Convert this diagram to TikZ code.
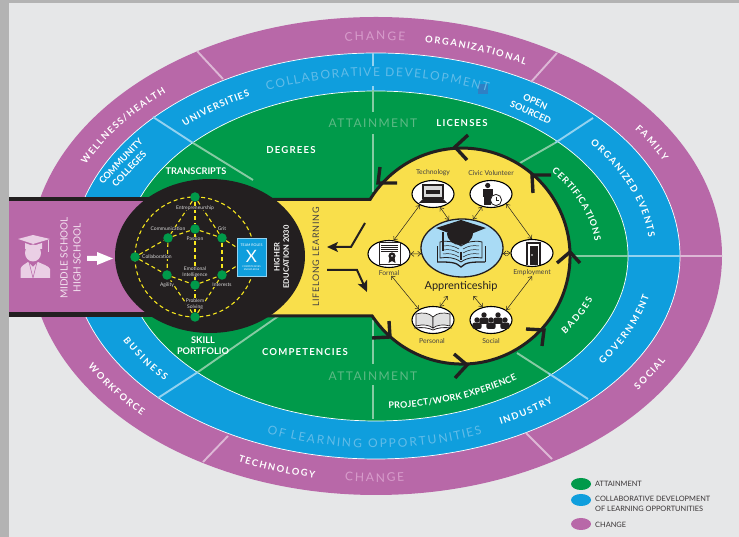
\documentclass[tikz,border=0pt]{standalone}
\usepackage{fontspec}
\setmainfont{Lato}
\newfontfamily\spaced[LetterSpace=12]{Lato}
\usetikzlibrary{shapes.geometric,arrows.meta,decorations.text}
\definecolor{pagegray}{HTML}{E6E7E8}
\definecolor{stripgray}{HTML}{B3B3B3}
\definecolor{ringpurple}{HTML}{B868A8}
\definecolor{ringblue}{HTML}{0F9EDD}
\definecolor{ringgreen}{HTML}{009A4A}
\definecolor{hubyellow}{HTML}{F9DF4B}
\definecolor{hubblack}{HTML}{231F20}
\definecolor{ghostpurple}{HTML}{D79CCB}
\definecolor{ghostblue}{HTML}{62BCE8}
\definecolor{ghostgreen}{HTML}{5DB985}
\definecolor{linepurple}{HTML}{DDB8D6}
\definecolor{lineblue}{HTML}{93D2F0}
\definecolor{linegreen}{HTML}{86CBA3}
\definecolor{iconpurple}{HTML}{EACFE5}
\definecolor{netyellow}{HTML}{F6E61E}
\definecolor{bookblue}{HTML}{A9DBF5}
\definecolor{markblue}{HTML}{2F80C4}
\tikzset{
  ringwhite/.style={font=\fontsize{9.4}{9.4}\selectfont\bfseries,text=white},
  ringsmall/.style={font=\fontsize{9}{9}\selectfont\bfseries,text=white},
  ringghost/.style={font=\fontsize{12}{12}\selectfont,text=#1},
  flatlabel/.style={font=\spaced\fontsize{9.6}{11}\selectfont\bfseries,text=white,inner sep=0pt,align=center},
  flatplain/.style={font=\fontsize{9.2}{11.4}\selectfont\bfseries,text=white,inner sep=0pt,align=center},
  ghostlabel/.style={font=\spaced\fontsize{12}{12}\selectfont,text=ghostgreen,inner sep=0pt},
  netdot/.style={circle,fill=ringgreen,minimum size=9.5pt,inner sep=0pt},
  netlink/.style={draw=netyellow,line width=1.1pt,dash pattern=on 4pt off 3pt},
  netlabel/.style={font=\fontsize{5}{5.6}\selectfont,text=white!85!black,fill=hubblack,inner sep=.2pt,align=center},
  iconcell/.style={ellipse,draw=black,fill=white,line width=1.1pt,minimum width=42pt,minimum height=27pt,inner sep=0pt},
  iconlabel/.style={font=\fontsize{6.8}{7}\selectfont,text=hubblack!85,inner sep=0pt},
  twoway/.style={{Straight Barb[length=3pt,width=5pt]}-{Straight Barb[length=3pt,width=5pt]},line width=.5pt,draw=hubblack},
  chevron/.style={draw=hubblack,line width=3.4pt},
  bigarrow/.style={draw=hubblack,line width=2pt,-{Stealth[length=11pt,width=10pt,inset=2.5pt]}},
  legendkey/.style={ellipse,minimum width=20pt,minimum height=12pt,inner sep=0pt},
  legendtext/.style={font=\fontsize{7.4}{9.6}\selectfont,text=hubblack!90,inner sep=0pt,align=left,anchor=west},
}
% text on an arc of an ellipse round the middle of the rings
\newcommand{\ringlabel}[6]{%
  \path[decorate,decoration={text effects along path,text={#6},
    text effects/.cd,text along path,fit text to path,characters={text along path,#5}}]
    ({376+#1*cos(#3)},{281+#2*sin(#3)}) arc[start angle=#3,end angle=#4,x radius=#1,y radius=#2];}
\begin{document}
\begin{tikzpicture}[x=1pt,y=1pt]
  \useasboundingbox (0,0) rectangle (739,537);
  \fill[stripgray] (0,0) rectangle (739,537);
  \fill[pagegray] (9,0) rectangle (739,534);

  % the three rings
  \fill[ringpurple] (376,281) ellipse[x radius=346,y radius=239];
  \filldraw[fill=ringblue,draw=white,line width=.7pt] (376,281) ellipse[x radius=304,y radius=203];
  \filldraw[fill=ringgreen,draw=white,line width=.7pt] (376,281) ellipse[x radius=252,y radius=165];

  % dividers
  \begin{scope}[line width=1.9pt,draw=linepurple]
    \draw (197,486) -- (223,458);
    \draw (557,484) -- (531,455);
    \draw (203,75) -- (228,101);
    \draw (552,78) -- (526,104);
    \draw (680,281) -- (722,281);
  \end{scope}
  \begin{scope}[line width=1.9pt,draw=lineblue]
    \draw (153,420) -- (193,394);
    \draw (593,419) -- (555,394);
    \draw (158,139) -- (198,165);
    \draw (588,138) -- (548,164);
    \draw (628,281) -- (680,281);
    \draw (373,484) -- (373,471);
    \draw (373,451) -- (373,447);
  \end{scope}
  \begin{scope}[line width=1.9pt,draw=linegreen]
    \draw (193,394) -- (253,357);
    \draw (555,394) -- (520,374);
    \draw (198,165) -- (280,222);
    \draw (548,164) -- (517,184);
    \draw (565,281) -- (628,281);
    \draw (373,447) -- (373,425);
    \draw (373,403) -- (373,345);
    \draw (373,217) -- (373,173);
    \draw (373,152) -- (373,118);
  \end{scope}

  % ring labels
  \ringlabel{320}{216}{95.6}{84.8}{ringghost=ghostpurple}{CHANGE}
  \ringlabel{320}{216}{81.2}{62.2}{ringwhite}{ORGANIZATIONAL}
  \ringlabel{320}{216}{155}{131}{ringwhite}{WELLNESS/HEALTH}
  \ringlabel{320}{216}{36}{26}{ringwhite}{FAMILY}
  \ringlabel{330}{226}{209.2}{224.8}{ringwhite}{WORKFORCE}
  \ringlabel{330}{226}{245.3}{259.3}{ringwhite}{TECHNOLOGY}
  \ringlabel{330}{226}{264.6}{274.9}{ringghost=ghostpurple}{CHANGE}
  \ringlabel{328}{223}{323}{332}{ringwhite}{SOCIAL}
  \fill[markblue] (478,443) rectangle (488,453);
  \ringlabel{274}{180}{113.4}{65.9}{ringghost=ghostblue}{COLLABORATIVE DEVELOPMENT}
  \ringlabel{274}{180}{134.2}{117.4}{ringwhite}{UNIVERSITIES}
  \ringlabel{274}{180}{38.6}{6}{ringwhite}{ORGANIZED EVENTS}
  \ringlabel{280}{184}{324}{347.5}{ringwhite}{GOVERNMENT}
  \ringlabel{283}{188}{296.2}{308.7}{ringwhite}{INDUSTRY}
  \ringlabel{283}{192}{247.3}{292}{ringghost=ghostblue}{OF LEARNING OPPORTUNITIES}
  \ringlabel{283}{188}{206.6}{221.7}{ringwhite}{BUSINESS}
  \ringlabel{240}{153}{273}{306}{ringsmall}{PROJECT/WORK EXPERIENCE}
  \ringlabel{220}{140}{37}{6}{ringsmall}{CERTIFICATIONS}
  \ringlabel{228}{140}{326}{342}{ringsmall}{BADGES}

  \node[flatplain,rotate=-24] (opensourced) at (533,430) {OPEN\\SOURCED};
  \node[flatplain,rotate=47] (community) at (125,372) {COMMUNITY\\COLLEGES};
  \node[flatlabel] (degrees) at (291,387) {DEGREES};
  \node[flatlabel] (licenses) at (462,414) {LICENSES};
  \node[flatlabel] (competencies) at (305,185) {COMPETENCIES};
  \node[flatplain] (transcripts) at (196,366) {TRANSCRIPTS};
  \node[flatplain] (portfolio) at (203,191.5) {SKILL\\PORTFOLIO};
  \node[ghostlabel] (attaintop) at (373,414) {ATTAINMENT};
  \node[ghostlabel] (attainlow) at (373,161) {ATTAINMENT};

  % entry band and hub
  \fill[hubblack] (9,220) rectangle (260,340);
  \fill[ringpurple] (9,225) rectangle (150,336);
  \filldraw[fill=hubyellow,draw=hubblack,line width=3pt] (250,221) -- (372.2,221)
    arc[start angle=-146.3,end angle=148.4,radius=108] -- (250,337.5) -- cycle;
  \fill[hubblack] (210,281) ellipse[x radius=95,y radius=77];

  % graduate
  \begin{scope}[iconpurple]
    \fill (18,298) -- (33,302) -- (50,298) -- (33,293) -- cycle;
    \fill (25,294) -- (33,291) -- (42,294) -- (42,288) -- (25,288) -- cycle;
    \fill (33,284) ellipse[x radius=8,y radius=8.5];
    \fill (20.5,259) -- (20.5,268) .. controls (21,271) and (25,273) .. (28,275) -- (33,270) -- (38,275)
      .. controls (42,273) and (49,271) .. (50,268) -- (50,259) -- cycle;
    \draw[line width=.9pt] (48,297) -- (48,285);
    \draw[ringpurple,line width=.6pt] (29,275) -- (33,259) -- (37,275);
  \end{scope}
  \node[font=\fontsize{10}{13}\selectfont,text=iconpurple!60!white,rotate=90,inner sep=0pt,align=center] (school) at (70.5,279) {MIDDLE SCHOOL\\HIGH SCHOOL};
  \fill[white] (87,276) -- (97,276) -- (97,272) -- (113,278.5) -- (97,285) -- (97,281) -- (87,281) -- cycle;

  % network in the black oval
  \draw[netlink] (195,280) circle[radius=60];
  \node[netdot] (ntop) at (195,340) {};
  \node[netdot] (nbottom) at (195,220) {};
  \node[netdot] (nleft) at (135,280) {};
  \node[netdot] (ncomm) at (168,299) {};
  \node[netdot] (npass) at (195,308) {};
  \node[netdot] (ngrit) at (222,299) {};
  \node[netdot] (nagil) at (167,262) {};
  \node[netdot] (nemot) at (195,252) {};
  \node[netdot] (nintr) at (222,262) {};
  \node[rectangle,fill=ringblue,draw=lineblue,line width=.3pt,minimum width=29pt,minimum height=38pt,inner sep=0pt] (teambox) at (251.5,280) {};
  \foreach \from/\to in {ntop/ncomm,ntop/npass,ntop/ngrit,ncomm/npass,npass/ngrit,ncomm/nagil,ngrit/nintr,npass/nemot,nleft/ncomm,nleft/nagil,nagil/nemot,nemot/nintr,nbottom/nagil,nbottom/nemot,nbottom/nintr,ngrit/teambox,nintr/teambox}
    \draw[netlink] (\from) -- (\to);
  \node[netlabel] (lentre) at (195,329) {Entrepreneurship};
  \node[netlabel] (lcomm) at (168,308) {Communication};
  \node[netlabel] (lgrit) at (222,308) {Grit};
  \node[netlabel] (lpass) at (195,298) {Passion};
  \node[netlabel] (lcoll) at (157,280) {Collaboration};
  \node[netlabel] (lemot) at (195,265) {Emotional\\Intelligence};
  \node[netlabel] (lagil) at (167,252) {Agility};
  \node[netlabel] (lintr) at (222,252) {Interests};
  \node[netlabel] (lprob) at (195,233) {Problem\\Solving};
  \node[font=\fontsize{3.6}{4}\selectfont,text=white,inner sep=0pt] (lteam) at (251.5,292) {TEAM ROLES};
  \node[font=\fontsize{17}{17}\selectfont,text=white,inner sep=0pt] (lx) at (251.5,281) {X};
  \node[font=\fontsize{2.4}{3.6}\selectfont,text=white,inner sep=0pt,align=center] (lcomp) at (251.5,269) {COMPETENCIES\\KNOWLEDGE};
  \node[font=\fontsize{7.5}{9.4}\selectfont\bfseries,text=white,rotate=90,inner sep=0pt,align=center] (higher) at (281.5,280) {HIGHER\\EDUCATION 2030};

  % yellow hub
  \node[font=\addfontfeatures{LetterSpace=8}\fontsize{9}{9}\selectfont,text=hubblack!85,rotate=90,inner sep=0pt] (lifelong) at (316,280) {LIFELONG LEARNING};
  \coordinate (outa) at (365,314);
  \coordinate (outb) at (351,290);
  \coordinate (outc) at (327,290);
  \coordinate (ina) at (327,267);
  \coordinate (inb) at (357,267);
  \coordinate (inc) at (367,245);
  \draw[bigarrow] (outa) -- (outb) -- (outc);
  \draw[bigarrow] (ina) -- (inb) -- (inc);
  \draw[chevron] (468,402) -- (455,390) -- (467,377);
  \draw[chevron] (380,370) -- (378,354) -- (397,354);
  \draw[chevron] (533,344) -- (532,362) -- (551,362);
  \draw[chevron] (557,274) -- (570,285) -- (580,274);
  \draw[chevron] (526,208) -- (544,207) -- (542,191);
  \draw[chevron] (454,183) -- (467,172) -- (455,159);
  \draw[chevron] (372,199) -- (390,200) -- (389,216);

  % cells round the book
  \node[ellipse,draw=hubblack,fill=bookblue,line width=1.3pt,minimum width=82pt,minimum height=58pt,inner sep=0pt] (bookcell) at (462,289) {};
  \node[iconcell] (technology) at (433,343) {};
  \node[iconcell] (civic) at (491,343) {};
  \node[iconcell] (formal) at (389,283) {};
  \node[iconcell] (employment) at (532,284) {};
  \node[iconcell] (personal) at (433,217) {};
  \node[iconcell] (social) at (491,217) {};
  \node[iconlabel] (ltech) at (433,364) {Technology};
  \node[iconlabel] (lcivic) at (491,364) {Civic Volunteer};
  \node[iconlabel] (lformal) at (389,264) {Formal};
  \node[iconlabel] (lemploy) at (532,264) {Employment};
  \node[iconlabel] (lperson) at (432,196) {Personal};
  \node[iconlabel] (lsocial) at (491,196) {Social};
  \node[font=\fontsize{11}{11}\selectfont,text=hubblack,inner sep=0pt] (lappr) at (461,251) {Apprenticeship};
  \coordinate (appleft) at (447.7,241);
  \coordinate (appright) at (473.3,241);
  \draw[twoway] (formal.71) -- (technology.220);
  \draw[twoway] (technology.-62) -- (bookcell.115);
  \draw[twoway] (civic.-125) -- (bookcell.69);
  \draw[twoway] (civic.-33) -- (employment.91);
  \draw[twoway] (formal.east) -- (bookcell.188);
  \draw[twoway] (bookcell.-8) -- (employment.west);
  \draw[twoway] (lformal.-50) -- (personal.143);
  \draw[twoway] (lemploy.south) -- (social.33);
  \draw[twoway] (personal.62) -- (appleft);
  \draw[twoway] (social.123) -- (appright);

  % book and cap
  \begin{scope}[shift={(462,289)}]
    \filldraw[fill=bookblue,draw=hubblack,line width=.8pt] (-1,-14) .. controls (-8,-9) and (-15,-9) .. (-22,-10) -- (-22,6) .. controls (-15,8) and (-6,6) .. (-1,2) .. controls (4,6) and (13,8) .. (20,6) -- (20,-10) .. controls (13,-9) and (6,-9) .. (-1,-14) -- cycle;
    \foreach \h in {-6,-2,2}{
      \draw[hubblack,line width=.5pt] (-19,\h) .. controls (-13,\h+1) and (-8,\h) .. (-3,\h-3);
      \draw[hubblack,line width=.5pt] (1,\h-3) .. controls (6,\h) and (11,\h+1) .. (17,\h);
    }
    \draw[hubblack,line width=1.3pt] (-25,-14) .. controls (-12,-14) and (-6,-14) .. (-1,-19) .. controls (4,-14) and (10,-14) .. (23,-14);
    \draw[hubblack,line width=1pt] (-25,-14) -- (-25,2);
    \draw[hubblack,line width=1pt] (23,-14) -- (23,2);
    \fill[hubblack] (-15,15) .. controls (-14,-1) and (10,-1) .. (11,15) -- cycle;
    \fill[hubblack] (-26,20) -- (-1,28) -- (24,20) -- (-1,10) -- cycle;
    \draw[hubblack,line width=1.5pt] (-19,16) -- (-19,-3);
    \draw[hubblack,line width=1.2pt] (-1,-4) -- (-1,-12);
  \end{scope}

  % laptop
  \begin{scope}[shift={(433,343)}]
    \filldraw[fill=white!85!black,draw=hubblack,line width=1.1pt] (-10,9) rectangle (10,-4);
    \fill[hubblack] (-7,4) rectangle (7,0);
    \fill[hubblack] (-10,-5) -- (10,-5) -- (14,-9) -- (-14,-9) -- cycle;
  \end{scope}
  % person with clock
  \begin{scope}[shift={(491,343)}]
    \fill[hubblack] (-3.3,8.5) circle[radius=2.6];
    \fill[hubblack] (-8,5) rectangle (2,-3);
    \fill[hubblack] (-7,-3) rectangle (-0.5,-11);
    \filldraw[fill=white,draw=hubblack,line width=.8pt] (5,-6) circle[radius=5.6];
    \draw[hubblack,line width=.5pt] (5,-3) -- (5,-6) -- (7.5,-6);
  \end{scope}
  % certificate
  \begin{scope}[shift={(389,283)}]
    \filldraw[fill=white,draw=hubblack,line width=.7pt] (-10,12) rectangle (11,-10);
    \foreach \h in {9,7,5,3}
      \draw[hubblack,line width=.4pt] (-8,\h) -- (9,\h);
    \fill[hubblack] (3,-2) circle[radius=3.6];
    \fill[hubblack] (0.5,-4) -- (-0.5,-9) -- (3,-7) -- (6.5,-9) -- (5.5,-4) -- cycle;
    \fill[white] (3,-2) circle[radius=1];
  \end{scope}
  % door
  \begin{scope}[shift={(532,284)}]
    \fill[hubblack] (-6,10.5) rectangle (9,-12.5);
    \fill[white] (-4,8.5) rectangle (7,-12.5);
    \fill[hubblack] (-2,6.5) rectangle (6,-12.5);
    \fill[white] (0,-2) circle[radius=.8];
  \end{scope}
  % open book
  \begin{scope}[shift={(433,217)}]
    \filldraw[fill=white!88!black,draw=hubblack,line width=.7pt] (-17,6) .. controls (-10,8) and (-4,7) .. (0,3) -- (0,-8) .. controls (-4,-5) and (-10,-4) .. (-17,-6) -- cycle;
    \filldraw[fill=white!88!black,draw=hubblack,line width=.7pt] (17,6) .. controls (10,8) and (4,7) .. (0,3) -- (0,-8) .. controls (4,-5) and (10,-4) .. (17,-6) -- cycle;
    \draw[hubblack,line width=.8pt] (-19,-8) .. controls (-10,-7) and (-4,-8) .. (0,-10) .. controls (4,-8) and (10,-7) .. (19,-8);
  \end{scope}
  % group of people
  \begin{scope}[shift={(491,217)}]
    \foreach \px/\py in {-7/5,7/5,-14/0,0/0,14/0}{
      \fill[hubblack] (\px,\py) circle[radius=2.7];
      \fill[hubblack,rounded corners=2pt] (\px-4.6,\py-9) rectangle (\px+4.6,\py-2.6);
    }
  \end{scope}

  % legend
  \node[legendkey,fill=ringgreen] (keygreen) at (581,53) {};
  \node[legendkey,fill=ringblue] (keyblue) at (581,37) {};
  \node[legendkey,fill=ringpurple] (keypurple) at (581,13) {};
  \node[legendtext] (txtgreen) at (595,53) {ATTAINMENT};
  \node[legendtext] (txtblue) at (595,33) {COLLABORATIVE DEVELOPMENT\\OF LEARNING OPPORTUNITIES};
  \node[legendtext] (txtpurple) at (595,12) {CHANGE};
\end{tikzpicture}
\end{document}
